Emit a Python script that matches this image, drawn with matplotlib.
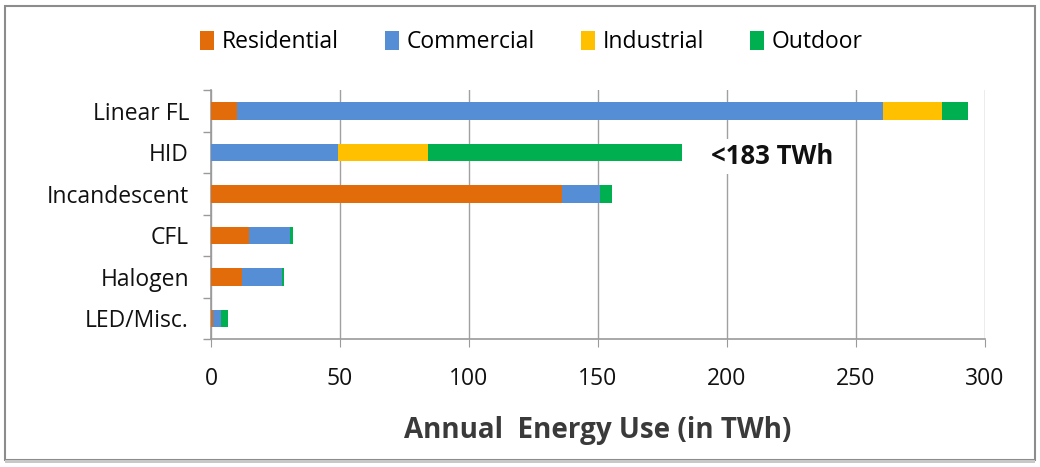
import matplotlib
matplotlib.use("Agg")
import matplotlib.pyplot as plt
from matplotlib.patches import Rectangle
import numpy as np

categories = ["Linear FL", "HID", "Incandescent", "CFL", "Halogen", "LED/Misc."]
residential = [10, 0, 136, 14.7, 12, 0.8]
commercial = [250.4, 49, 14.9, 16, 15.3, 3.2]
industrial = [22.8, 35.2, 0, 0, 0, 0]
outdoor = [10.1, 98.2, 4.5, 1, 0.8, 2.7]

series = [
    ("Residential", residential, "#E36C0A"),
    ("Commercial", commercial, "#558ED5"),
    ("Industrial", industrial, "#FFC000"),
    ("Outdoor", outdoor, "#00B050"),
]

plt.rcParams["font.family"] = ["Open Sans", "DejaVu Sans"]

fig = plt.figure(figsize=(10.4, 4.67), dpi=100)
ax = fig.add_axes([0.203, 0.274, 0.744, 0.533])

y = np.arange(len(categories))
left = np.zeros(len(categories))
for name, vals, color in series:
    ax.barh(y, vals, left=left, height=0.42, color=color, label=name, zorder=3)
    left += np.array(vals)

ax.set_xlim(0, 300)
ax.set_ylim(len(categories) - 0.5, -0.5)
ax.set_xticks(np.arange(0, 301, 50))
ax.set_yticks(y)
ax.set_yticklabels(categories)
ax.set_yticks(np.arange(-0.5, len(categories)), minor=True)
ax.tick_params(axis="y", which="major", length=0, pad=16, labelsize=16.5, labelcolor="#111111")
ax.tick_params(axis="y", which="minor", length=6, color="#9a9a9a", width=1)
ax.tick_params(axis="x", length=6, color="#9a9a9a", labelsize=16.5, pad=14, labelcolor="#111111")
ax.grid(axis="x", color="#a0a0a0", linewidth=1, zorder=0)
for side in ("top", "right"):
    ax.spines[side].set_visible(False)
for side in ("left", "bottom"):
    ax.spines[side].set_color("#9a9a9a")
    ax.spines[side].set_linewidth(1.2)

ax.set_xlabel("Annual  Energy Use (in TWh)", fontsize=20, fontweight="bold",
              color="#3a3a3a", labelpad=18)

ax.text(194, 1.1, "<183 TWh", fontsize=18.5, fontweight="bold", color="#111111",
        va="center", ha="left", zorder=5,
        bbox=dict(facecolor="white", edgecolor="none", pad=3))

fig.legend(loc="center", bbox_to_anchor=(0.511, 0.91), ncol=4, frameon=False,
           fontsize=16.5, handlelength=0.6, handleheight=0.9, handletextpad=0.35,
           columnspacing=2.0)

# outer chart frame
fig.patches.append(Rectangle((0.005, 0.016), 0.99, 0.972, transform=fig.transFigure,
                             fill=False, edgecolor="#8c8c8c", linewidth=1.5))
fig.patches.append(Rectangle((0.005, 0.008), 0.99, 0.006, transform=fig.transFigure,
                             fill=True, facecolor="#c8c8c8", edgecolor="none"))

fig.savefig("out.png", dpi=100)
